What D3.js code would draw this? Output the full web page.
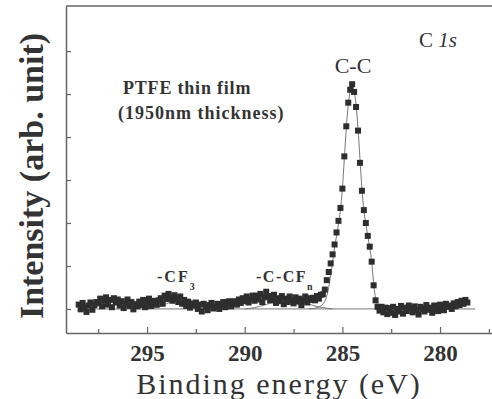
<!DOCTYPE html>
<html>
<head>
<meta charset="utf-8">
<script src="https://cdn.jsdelivr.net/npm/d3@7"></script>
<style>
  body { margin: 0; background: #fff; }
  svg text { font-family: "Liberation Serif", "DejaVu Serif", serif; fill: #333; }
</style>
</head>
<body>
<div class="chart"></div>
<script>
// measured C 1s spectrum, 0.1 eV steps from 298.5 eV down to 278.6 eV
const startEnergy = 298.5;
const stepEnergy = 0.1;
const intensity = [
  0.10, -0.01, 0.14, 0.03, -0.07, 0.08, 0.15, -0.02, 0.09, 0.16,
  0.13, 0.24, 0.06, 0.19, 0.27, 0.10, 0.21, 0.04, 0.25, 0.15,
  0.22, 0.08, 0.18, 0.02, 0.12, 0.22, 0.07, 0.16, -0.01, 0.11,
  0.06, 0.17, 0.09, 0.21, 0.04, 0.15, 0.24, 0.07, 0.13, 0.19,
  0.10, 0.20, 0.25, 0.12, 0.31, 0.23, 0.35, 0.26, 0.19, 0.32,
  0.25, 0.16, 0.29, 0.12, 0.21, 0.07, 0.17, 0.03, 0.13, 0.08,
  0.15, 0.00, 0.10, -0.06, 0.12, 0.05, -0.03, 0.09, 0.14, 0.01,
  0.05, 0.12, 0.00, 0.10, 0.16, 0.04, 0.13, 0.18, 0.06, 0.15,
  0.18, 0.10, 0.22, 0.14, 0.25, 0.18, 0.29, 0.15, 0.24, 0.31,
  0.19, 0.31, 0.22, 0.35, 0.16, 0.27, 0.40, 0.30, 0.20, 0.26,
  0.33, 0.14, 0.25, 0.18, 0.30, 0.11, 0.24, 0.16, 0.29, 0.20,
  0.13, 0.27, 0.17, 0.24, 0.09, 0.20, 0.29, 0.15, 0.25, 0.21,
  0.26, 0.20, 0.30, 0.24, 0.33, 0.34, 0.45, 0.67, 0.86, 1.06,
  1.27, 1.50, 1.78, 2.05, 2.35, 2.80, 3.55, 4.25, 4.80, 5.10,
  5.23, 5.05, 4.70, 4.15, 3.40, 2.75, 2.30, 2.00, 1.70, 1.45,
  1.10, 0.55, 0.20, 0.05, -0.04, 0.05, -0.08, 0.03, -0.12, 0.02,
  -0.09, 0.05, -0.14, 0.00, -0.06, 0.07, -0.11, 0.03, -0.05, 0.08,
  0.02, -0.08, 0.06, -0.03, -0.13, 0.05, 0.00, -0.06, 0.09, -0.02,
  0.03, -0.09, 0.08, 0.01, -0.05, 0.10, 0.04, -0.03, 0.12, 0.05,
  0.08, 0.00, 0.13, 0.06, 0.16, 0.09, 0.19, 0.12, 0.21, 0.15
];
const energy = intensity.map((d, i) => +(startEnergy - i * stepEnergy).toFixed(1));

// fitted components
const fitCCEnergy = [286.7, 286.5, 286.3, 286.1, 286.0, 285.9, 285.8, 285.7, 285.6, 285.5, 285.4, 285.3,
  285.2, 285.1, 285.0, 284.9, 284.8, 284.7, 284.6, 284.5, 284.4, 284.3, 284.2, 284.1, 284.0,
  283.9, 283.8, 283.7, 283.6, 283.5, 283.4, 283.3, 283.1, 282.9];
const fitCCValue = [0, 0.01, 0.03, 0.07, 0.11, 0.18, 0.30, 0.50, 0.78, 1.10, 1.42, 1.70,
  1.98, 2.30, 2.80, 3.50, 4.20, 4.75, 5.07, 5.20, 5.07, 4.75, 4.20, 3.50, 2.80,
  2.30, 1.98, 1.70, 1.42, 1.10, 0.60, 0.25, 0.04, 0];
const fitCF3Energy = [295.0, 294.6, 294.2, 293.9, 293.6, 293.3, 293.0, 292.6, 292.2];
const fitCF3Value = [0, 0.02, 0.08, 0.14, 0.17, 0.14, 0.08, 0.02, 0];
const fitCCFnEnergy = [290.0, 289.5, 289.0, 288.5, 288.0, 287.7, 287.4, 287.0, 286.5, 286.0, 285.5];
const fitCCFnValue = [0, 0.03, 0.09, 0.16, 0.21, 0.22, 0.21, 0.16, 0.08, 0.03, 0];
const baselineEnergy = [298.5, 278.2];
const baselineValue = [0, 0];

const majorTicks = [295, 290, 285, 280];
const minorTicks = [297.5, 292.5, 287.5, 282.5, 277.5];
const yTicks = [0, 1, 2, 3, 4, 5, 6];

const width = 492;
const height = 399;
const serif = '"Liberation Serif", "DejaVu Serif", serif';

const x = d3.scaleLinear().domain([299.15, 277.34]).range([66, 492]);
const y = d3.scaleLinear().domain([-0.56, 7.05]).range([333, 6]);

const svg = d3.select('.chart')
  .append('svg')
  .attr('width', width)
  .attr('height', height);

// frame top
svg.append('line')
  .attr('x1', 66).attr('x2', 492)
  .attr('y1', 6).attr('y2', 6)
  .attr('stroke', '#666').attr('stroke-width', 1.5);

const xAxis = svg.append('g')
  .attr('transform', 'translate(0,333)')
  .call(d3.axisBottom(x).tickValues(majorTicks).tickSizeInner(-6).tickSizeOuter(0).tickPadding(12));
xAxis.attr('font-family', serif);
xAxis.select('.domain').attr('stroke', '#666').attr('stroke-width', 1.5);
xAxis.selectAll('.tick line').attr('stroke', '#666').attr('stroke-width', 1.2);
xAxis.selectAll('.tick text')
  .attr('fill', '#333')
  .style('font-size', '23px')
  .style('font-weight', 'bold')
  .style('font-family', serif);

const xMinor = svg.append('g')
  .attr('transform', 'translate(0,333)')
  .call(d3.axisBottom(x).tickValues(minorTicks).tickSizeInner(-4).tickSizeOuter(0).tickFormat(''));
xMinor.select('.domain').remove();
xMinor.selectAll('.tick line').attr('stroke', '#666').attr('stroke-width', 1.2);

const yAxis = svg.append('g')
  .attr('transform', 'translate(66,0)')
  .call(d3.axisLeft(y).tickValues(yTicks).tickSizeInner(-5).tickSizeOuter(0).tickFormat(''));
yAxis.select('.domain').attr('stroke', '#666').attr('stroke-width', 1.5);
yAxis.selectAll('.tick line').attr('stroke', '#666').attr('stroke-width', 1.2);

// fit lines
const line = d3.line()
  .x(d => x(d[0]))
  .y(d => y(d[1]))
  .curve(d3.curveMonotoneX);

const fits = [
  [baselineEnergy, baselineValue],
  [fitCF3Energy, fitCF3Value],
  [fitCCFnEnergy, fitCCFnValue],
  [fitCCEnergy, fitCCValue]
];
svg.selectAll('path.fit')
  .data(fits)
  .enter()
  .append('path')
  .attr('class', 'fit')
  .attr('d', f => line(f[0].map((e, i) => [e, f[1][i]])))
  .attr('fill', 'none')
  .attr('stroke', '#777')
  .attr('stroke-width', 1);

// data squares
const s = 6;
svg.selectAll('rect.pt')
  .data(intensity)
  .enter()
  .append('rect')
  .attr('class', 'pt')
  .attr('x', (d, i) => x(energy[i]) - s / 2)
  .attr('y', d => y(d) - s / 2)
  .attr('width', s)
  .attr('height', s)
  .attr('fill', '#2e2e2e');

// labels
svg.append('text')
  .attr('x', 279).attr('y', 393.5)
  .attr('text-anchor', 'middle')
  .style('font-size', '30px')
  .style('letter-spacing', '2px')
  .text('Binding energy (eV)');

svg.append('text')
  .attr('transform', 'translate(43,176) rotate(-90)')
  .attr('text-anchor', 'middle')
  .style('font-size', '34px')
  .style('font-weight', 'bold')
  .text('Intensity (arb. unit)');

const c1s = svg.append('text')
  .attr('x', 419).attr('y', 47)
  .style('font-size', '21px');
c1s.append('tspan').text('C ');
c1s.append('tspan').style('font-style', 'italic').text('1s');

svg.append('text')
  .attr('x', 353).attr('y', 73)
  .attr('text-anchor', 'middle')
  .style('font-size', '22px')
  .text('C-C');

svg.append('text')
  .attr('x', 123).attr('y', 94)
  .style('font-size', '18px')
  .style('font-weight', 'bold')
  .style('letter-spacing', '0.8px')
  .text('PTFE thin film');

svg.append('text')
  .attr('x', 118).attr('y', 119)
  .style('font-size', '18px')
  .style('font-weight', 'bold')
  .style('letter-spacing', '1px')
  .text('(1950nm thickness)');

const cf3 = svg.append('text')
  .attr('x', 157).attr('y', 282)
  .style('font-size', '16px')
  .style('font-weight', 'bold')
  .style('letter-spacing', '2px');
cf3.append('tspan').text('-CF');
cf3.append('tspan').attr('dy', 8).style('font-size', '10px').text('3');

const ccfn = svg.append('text')
  .attr('x', 256).attr('y', 282)
  .style('font-size', '16px')
  .style('font-weight', 'bold')
  .style('letter-spacing', '1.5px');
ccfn.append('tspan').text('-C-CF');
ccfn.append('tspan').attr('dy', 8).style('font-size', '10px').text('n');
</script>
</body>
</html>
